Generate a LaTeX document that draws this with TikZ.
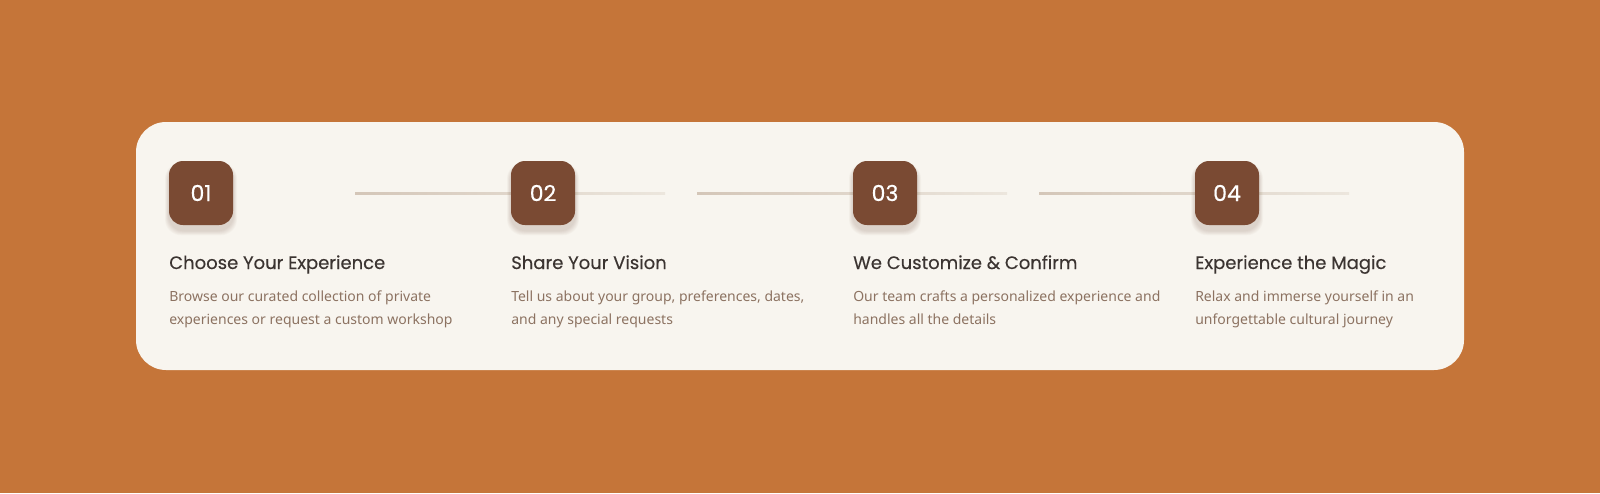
\documentclass[tikz,border=0pt]{standalone}
\usepackage{fontspec}
\setmainfont{Noto Sans}
\newfontfamily\headfont[FakeBold=0.35]{Poppins}
\newfontfamily\numfont[FakeBold=0.5]{Poppins}
\definecolor{bgor}{HTML}{C57539}
\definecolor{cardc}{HTML}{F8F5EF}
\definecolor{boxc}{HTML}{7A4A33}
\definecolor{titlec}{HTML}{3B3431}
\definecolor{bodyc}{HTML}{8C7261}
\definecolor{lineA}{HTML}{D4C6B8}
\definecolor{lineB}{HTML}{ECE6DD}
\definecolor{shadc}{HTML}{6B4A33}
\tikzset{
  card/.style={fill=cardc, rounded corners=22.5pt, minimum width=996pt, minimum height=186pt, inner sep=0pt},
  stepnum/.style={fill=boxc, rounded corners=10.5pt, minimum width=48pt, minimum height=48pt, inner sep=0pt,
    text=white, font=\numfont\fontsize{16.5}{18}\selectfont},
  steptitle/.style={anchor=base west, inner sep=0pt, text=titlec, font=\headfont\fontsize{13.5}{16}\selectfont},
  stepbody/.style={anchor=base west, inner sep=0pt, align=left, text=bodyc, font=\fontsize{10.5}{17.25}\selectfont},
  stepline/.style={left color=lineA, right color=lineB},
  softshadow/.style={fill=shadc, opacity=0.028, rounded corners=12pt},
}
\newcommand{\boxshadow}[1]{%
  \foreach \k in {1,...,7}{%
    \fill[softshadow] ([xshift=-\k*0.4pt, yshift=-4pt-\k*0.5pt]#1.south west) rectangle ([xshift=\k*0.4pt, yshift=-3pt+\k*0.2pt]#1.north east);
  }}
\begin{document}
\begin{tikzpicture}[x=0.75pt, y=-0.75pt]
\fill[bgor] (0,0) rectangle (1600,493);
\useasboundingbox (0,0) rectangle (1600,493);
\node[card] (card) at (800,246) {};
% connector lines
\coordinate (l1s) at (355,193); \coordinate (l1e) at (665,193);
\coordinate (l2s) at (697,193); \coordinate (l2e) at (1007,193);
\coordinate (l3s) at (1039,193); \coordinate (l3e) at (1349,193);
\shade[stepline] ([yshift=0.75pt]l1s) rectangle ([yshift=-0.75pt]l1e);
\shade[stepline] ([yshift=0.75pt]l2s) rectangle ([yshift=-0.75pt]l2e);
\shade[stepline] ([yshift=0.75pt]l3s) rectangle ([yshift=-0.75pt]l3e);
% step number boxes (shadow path first, then box)
\path (201,193) coordinate (c1) (543,193) coordinate (c2) (885,193) coordinate (c3) (1227,193) coordinate (c4);
\foreach \i in {1,2,3,4}{
  \node[minimum size=48pt, inner sep=0pt] (s\i) at (c\i) {};
  \boxshadow{s\i}
}
\node[stepnum] (n1) at (c1) {01};
\node[stepnum] (n2) at (c2) {02};
\node[stepnum] (n3) at (c3) {03};
\node[stepnum] (n4) at (c4) {04};
\node[steptitle] (t1) at (169,269) {Choose Your Experience};
\node[steptitle] (t2) at (511,269) {Share Your Vision};
\node[steptitle] (t3) at (853,269) {We Customize \& Confirm};
\node[steptitle] (t4) at (1195,269) {Experience the Magic};
\node[stepbody] (b1) at (169,324) {Browse our curated collection of private\\experiences or request a custom workshop};
\node[stepbody] (b2) at (511,324) {Tell us about your group, preferences, dates,\\and any special requests};
\node[stepbody] (b3) at (853,324) {Our team crafts a personalized experience and\\handles all the details};
\node[stepbody] (b4) at (1195,324) {Relax and immerse yourself in an\\unforgettable cultural journey};
\end{tikzpicture}
\end{document}
